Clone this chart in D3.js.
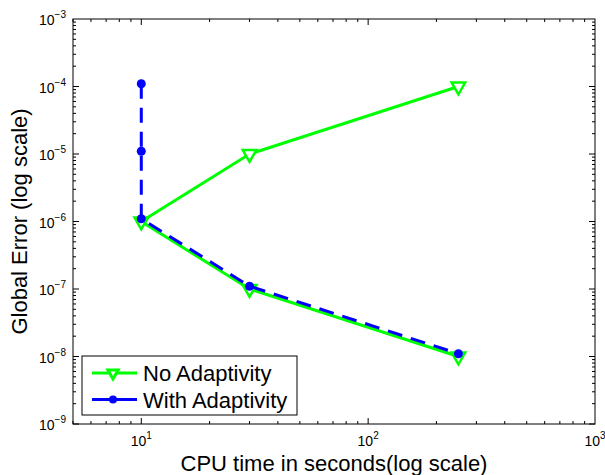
<!DOCTYPE html>
<html>
<head>
<meta charset="utf-8">
<script src="https://cdn.jsdelivr.net/npm/d3@7"></script>
<style>
  body { margin: 0; background: #fff; }
  text { font-family: "Liberation Sans", Arial, sans-serif; fill: #000; }
</style>
</head>
<body>
<div id="chart"></div>
<script>
// data
const noAdaptX = [250, 30, 10, 30, 250];
const noAdaptY = [1e-4, 1e-5, 1e-6, 1e-7, 1e-8];
const adaptX = [10, 10, 10, 30, 250];
const adaptY = [1.1e-4, 1.1e-5, 1.1e-6, 1.1e-7, 1.1e-8];
const xMajor = [10, 100, 1000];
const yMajor = [1e-9, 1e-8, 1e-7, 1e-6, 1e-5, 1e-4, 1e-3];
const seriesNames = ["No Adaptivity", "With Adaptivity"];

const W = 605, H = 475;
const margin = {top: 19, right: 10, bottom: 51, left: 73};
const width = W - margin.left - margin.right;
const height = H - margin.top - margin.bottom;

const root = d3.select("#chart").append("svg")
    .attr("width", W).attr("height", H);
const svg = root.append("g")
    .attr("transform", `translate(${margin.left},${margin.top})`);

const xScale = d3.scaleLog().domain([5, 1000]).range([0, width]);
const yScale = d3.scaleLog().domain([1e-9, 1e-3]).range([height, 0]);

// minor tick positions
function minors(lo, hi) {
    const out = [];
    for (let e = Math.floor(Math.log10(lo)); e < Math.ceil(Math.log10(hi)); e++) {
        for (let m = 1; m < 10; m++) {
            const v = m * Math.pow(10, e);
            if (v >= lo && v <= hi) out.push(v);
        }
    }
    return out;
}
const xMinor = minors(5, 1000);
const yMinor = minors(1e-9, 1e-3);

function expOf(v) { return Math.round(Math.log10(v)); }
function isMajor(v, list) { return list.some(m => Math.abs(m - v) / v < 1e-6); }

// ticks, pointing inward on all four sides
const tk = svg.append("g").attr("stroke", "#000").attr("stroke-width", 1);
xMinor.forEach(v => {
    const x = xScale(v);
    const L = isMajor(v, xMajor) ? 6 : 3;
    tk.append("line").attr("x1", x).attr("x2", x).attr("y1", height).attr("y2", height - L);
    tk.append("line").attr("x1", x).attr("x2", x).attr("y1", 0).attr("y2", L);
});
yMinor.forEach(v => {
    const y = yScale(v);
    const L = isMajor(v, yMajor) ? 6 : 3;
    tk.append("line").attr("x1", 0).attr("x2", L).attr("y1", y).attr("y2", y);
    tk.append("line").attr("x1", width).attr("x2", width - L).attr("y1", y).attr("y2", y);
});

// frame
svg.append("rect")
    .attr("width", width).attr("height", height)
    .attr("fill", "none").attr("stroke", "#000").attr("stroke-width", 1);

// tick labels
xMajor.forEach(v => {
    const t = svg.append("text")
        .attr("x", xScale(v)).attr("y", height + 22)
        .attr("text-anchor", "middle").style("font-size", "14px");
    t.append("tspan").text("10");
    t.append("tspan").attr("dy", -7).style("font-size", "10px").text(expOf(v));
});
yMajor.forEach(v => {
    const t = svg.append("text")
        .attr("x", -7).attr("y", yScale(v) + 6)
        .attr("text-anchor", "end").style("font-size", "14px");
    t.append("tspan").text("10");
    t.append("tspan").attr("dy", -7).style("font-size", "10px")
        .text("\u2212" + Math.abs(expOf(v)));
});

// axis titles
svg.append("text")
    .attr("x", width / 2).attr("y", height + 47)
    .attr("text-anchor", "middle").style("font-size", "22px")
    .text("CPU time in seconds(log scale)");
svg.append("text")
    .attr("transform", `translate(${-46},${height / 2}) rotate(-90)`)
    .attr("text-anchor", "middle").style("font-size", "22px")
    .text("Global Error (log scale)");

const line = d3.line().x(d => xScale(d[0])).y(d => yScale(d[1]));
const green = "#00ff00", blue = "#0000ff";
const tri = d3.symbol().type(d3.symbolTriangle).size(80);
const triSmall = d3.symbol().type(d3.symbolTriangle).size(45);

// No Adaptivity
const gData = d3.zip(noAdaptX, noAdaptY);
svg.append("path").datum(gData)
    .attr("fill", "none").attr("stroke", green).attr("stroke-width", 3)
    .attr("d", line);
svg.selectAll(".tri").data(gData).enter().append("path")
    .attr("class", "tri")
    .attr("transform", d => `translate(${xScale(d[0])},${yScale(d[1])}) rotate(180)`)
    .attr("d", tri)
    .attr("fill", "#fff").attr("stroke", green).attr("stroke-width", 2.5);

// With Adaptivity
const bData = d3.zip(adaptX, adaptY);
svg.append("path").datum(bData)
    .attr("fill", "none").attr("stroke", blue).attr("stroke-width", 3)
    .attr("stroke-dasharray", "15,9")
    .attr("d", line);
svg.selectAll(".dot").data(bData).enter().append("circle")
    .attr("class", "dot")
    .attr("cx", d => xScale(d[0])).attr("cy", d => yScale(d[1]))
    .attr("r", 4.5).attr("fill", blue);

// legend
const lg = svg.append("g").attr("transform", `translate(${82 - margin.left},${356 - margin.top})`);
lg.append("rect").attr("width", 215).attr("height", 59)
    .attr("fill", "#fff").attr("stroke", "#000").attr("stroke-width", 1);
seriesNames.forEach((name, i) => {
    const y = 17 + i * 26.5;
    const c = i === 0 ? green : blue;
    lg.append("line").attr("x1", 10).attr("x2", 55).attr("y1", y).attr("y2", y)
        .attr("stroke", c).attr("stroke-width", 3);
    if (i === 0) {
        lg.append("path").attr("transform", `translate(31,${y}) rotate(180)`)
            .attr("d", triSmall).attr("fill", "#fff").attr("stroke", green).attr("stroke-width", 3);
    } else {
        lg.append("circle").attr("cx", 31).attr("cy", y).attr("r", 4).attr("fill", blue);
    }
    lg.append("text").attr("x", 61).attr("y", y + 8)
        .style("font-size", "22px").text(name);
});
</script>
</body>
</html>
